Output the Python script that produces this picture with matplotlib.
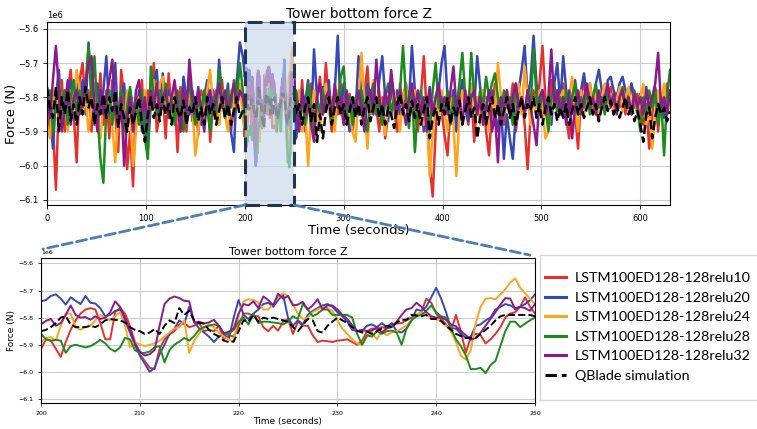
#!/usr/bin/env python3
"""
Tower bottom force Z: LSTM surrogates vs QBlade, full run plus 200-250 s zoom
"""

import numpy as np
import matplotlib.pyplot as plt
from matplotlib.patches import Rectangle, ConnectionPatch
from matplotlib.lines import Line2D

# sample times (s)
t_pre = np.arange(0, 199, 3)
t_zoom = np.arange(200, 250.25, 0.5)
t_post = np.arange(252, 631, 3)

labels = ['LSTM100ED128-128relu10', 'LSTM100ED128-128relu20', 'LSTM100ED128-128relu24',
          'LSTM100ED128-128relu28', 'LSTM100ED128-128relu32', 'QBlade simulation']
colors = ['#e8302b', '#3548b5', '#ffa41b', '#1b8c1b', '#8b1a8b', 'black']

# full-run values, force = -value * 1e4 N
relu10_pre = [585, 590, 588, 607, 580, 575, 590, 578, 572, 585,
              599, 575, 570, 583, 578, 590, 576, 585, 573, 588,
              578, 592, 575, 585, 596, 572, 580, 601, 590, 606,
              580, 585, 575, 592, 578, 583, 570, 590, 585, 578,
              592, 573, 585, 580, 596, 577, 583, 590, 575, 587,
              580, 591, 578, 585, 576, 593, 582, 578, 588, 575,
              586, 579, 590, 583, 575, 578, 582]
relu10_post = [580, 588, 575, 590, 582, 576, 587, 580, 574, 585,
               570, 582, 590, 578, 585, 576, 583, 588, 579, 590,
               582, 576, 585, 579, 571, 585, 578, 583, 590, 580,
               592, 585, 578, 583, 590, 576, 584, 580, 587, 578,
               585, 590, 580, 568, 585, 600, 609, 590, 578, 584,
               591, 597, 583, 578, 586, 580, 575, 583, 588, 579,
               593, 580, 585, 578, 590, 597, 583, 576, 585, 580,
               588, 578, 584, 576, 590, 583, 580, 588, 601, 585,
               578, 585, 576, 565, 580, 588, 575, 582, 578, 585,
               576, 586, 592, 580, 585, 595, 580, 575, 583, 578,
               585, 580, 587, 578, 583, 580, 577, 584, 579, 583,
               578, 585, 580, 576, 583, 579, 585, 588, 582, 595,
               585, 578, 590, 580, 584, 576, 582]
relu20_pre = [578, 585, 595, 580, 572, 588, 578, 583, 575, 586,
              576, 582, 575, 585, 564, 580, 588, 576, 584, 578,
              568, 585, 578, 570, 588, 580, 576, 590, 578, 583,
              586, 578, 590, 580, 595, 582, 576, 572, 585, 573,
              582, 578, 586, 576, 584, 590, 574, 580, 585, 578,
              584, 577, 588, 580, 575, 583, 578, 586, 569, 580,
              584, 576, 590, 596, 575, 564, 568]
relu20_post = [592, 585, 578, 582, 575, 588, 566, 580, 585, 577,
               583, 575, 588, 578, 562, 585, 576, 583, 590, 580,
               585, 568, 580, 588, 576, 583, 578, 585, 575, 568,
               580, 587, 576, 583, 578, 585, 580, 576, 582, 565,
               578, 585, 580, 590, 583, 577, 585, 580, 578, 570,
               565, 580, 585, 578, 590, 582, 575, 583, 587, 579,
               583, 568, 577, 585, 580, 588, 578, 584, 590, 582,
               598, 585, 592, 598, 585, 578, 572, 565, 580, 575,
               562, 576, 583, 578, 585, 580, 588, 576, 570, 582,
               568, 578, 585, 580, 575, 582, 578, 573, 580, 576,
               582, 576, 572, 578, 583, 575, 574, 578, 580, 576,
               574, 578, 582, 576, 580, 585, 579, 583, 577, 584,
               580, 577, 584, 580, 586, 578, 582]
relu24_pre = [588, 592, 578, 583, 575, 586, 580, 590, 578, 584,
              572, 578, 585, 580, 590, 583, 576, 585, 592, 580,
              585, 578, 588, 599, 585, 580, 590, 578, 584, 600,
              590, 580, 585, 578, 588, 580, 575, 583, 576, 574,
              585, 580, 588, 578, 584, 590, 580, 585, 578, 583,
              597, 590, 580, 585, 578, 572, 583, 580, 588, 578,
              585, 590, 578, 583, 580, 576, 586]
relu24_post = [585, 578, 590, 583, 600, 585, 578, 583, 590, 580,
               576, 585, 580, 590, 578, 583, 588, 580, 585, 590,
               593, 580, 567, 583, 595, 580, 575, 583, 578, 585,
               591, 580, 585, 578, 583, 590, 580, 576, 585, 580,
               578, 585, 580, 588, 582, 603, 590, 580, 585, 578,
               584, 590, 580, 588, 603, 585, 578, 583, 580, 576,
               585, 580, 588, 578, 583, 590, 580, 585, 570, 580,
               585, 578, 583, 588, 580, 576, 585, 571, 580, 588,
               580, 585, 578, 583, 592, 590, 583, 578, 585, 580,
               578, 585, 580, 574, 583, 590, 578, 585, 580, 576,
               583, 578, 585, 580, 576, 583, 579, 585, 581, 577,
               584, 580, 577, 583, 579, 585, 580, 576, 588, 583,
               595, 585, 578, 583, 576, 585, 580]
relu28_pre = [583, 578, 590, 580, 575, 585, 578, 588, 580, 575,
              585, 578, 583, 576, 565, 580, 568, 585, 598, 605,
              583, 578, 588, 580, 585, 578, 590, 583, 577, 585,
              580, 588, 578, 592, 598, 571, 580, 585, 578, 583,
              576, 585, 580, 588, 578, 584, 590, 580, 576, 583,
              588, 580, 585, 578, 583, 590, 580, 585, 572, 580,
              586, 578, 583, 575, 580, 570, 578]
relu28_post = [578, 585, 580, 588, 576, 583, 590, 580, 585, 578,
               584, 580, 588, 578, 583, 574, 571, 585, 580, 588,
               580, 585, 578, 583, 590, 580, 576, 585, 580, 588,
               580, 576, 585, 580, 583, 578, 565, 580, 589, 578,
               596, 583, 578, 585, 580, 590, 578, 570, 583, 580,
               585, 578, 588, 580, 583, 576, 567, 580, 585, 567,
               580, 585, 578, 583, 574, 580, 576, 573, 580, 585,
               578, 583, 580, 588, 576, 583, 580, 585, 578, 583,
               566, 580, 585, 578, 583, 590, 580, 576, 584, 580,
               585, 578, 583, 580, 576, 585, 580, 583, 578, 585,
               580, 576, 583, 580, 585, 578, 582, 579, 584, 580,
               577, 583, 580, 585, 578, 583, 590, 580, 585, 578,
               583, 578, 588, 580, 597, 580, 572]
relu32_pre = [580, 586, 575, 565, 578, 590, 583, 575, 588, 580,
              578, 585, 580, 576, 570, 568, 583, 590, 578, 585,
              580, 575, 569, 583, 588, 580, 600, 586, 580, 590,
              578, 575, 585, 580, 588, 578, 583, 576, 585, 580,
              578, 586, 580, 575, 583, 590, 578, 585, 569, 580,
              585, 578, 583, 590, 580, 578, 585, 580, 576, 583,
              578, 585, 580, 576, 583, 578, 580]
relu32_post = [583, 590, 578, 585, 580, 588, 593, 580, 576, 585,
               580, 578, 585, 576, 583, 580, 588, 578, 584, 580,
               585, 578, 583, 590, 580, 578, 585, 569, 580, 585,
               578, 583, 572, 580, 585, 578, 583, 588, 580, 576,
               583, 578, 585, 580, 590, 578, 585, 580, 576, 583,
               580, 585, 578, 571, 583, 580, 588, 578, 585, 580,
               578, 585, 580, 588, 583, 578, 590, 585, 599, 580,
               583, 578, 585, 580, 576, 583, 580, 585, 578, 583,
               588, 594, 580, 578, 585, 580, 566, 583, 578, 585,
               580, 588, 578, 592, 583, 578, 585, 580, 576, 583,
               580, 585, 578, 583, 580, 576, 583, 579, 585, 580,
               578, 583, 580, 585, 579, 583, 580, 585, 578, 583,
               580, 576, 567, 583, 580, 585, 578]
qblade_pre = [577, 583, 586, 577, 590, 580, 585, 578, 587, 582,
              588, 580, 585, 577, 583, 580, 588, 582, 585, 579,
              586, 580, 584, 578, 589, 582, 586, 590, 583, 588,
              584, 580, 588, 593, 585, 580, 586, 582, 587, 580,
              585, 582, 588, 580, 584, 586, 581, 588, 583, 585,
              580, 587, 583, 588, 580, 585, 582, 588, 584, 580,
              586, 582, 588, 584, 580, 586, 584]
qblade_post = [585, 582, 588, 583, 580, 587, 582, 593, 585, 592,
               584, 580, 588, 583, 580, 585, 582, 588, 584, 580,
               586, 582, 588, 583, 580, 587, 583, 580, 586, 582,
               588, 583, 585, 589, 582, 579, 585, 582, 587, 581,
               586, 582, 588, 584, 580, 592, 586, 583, 588, 582,
               585, 580, 588, 583, 586, 581, 588, 584, 580, 586,
               583, 592, 586, 582, 588, 583, 580, 586, 582, 588,
               584, 580, 586, 582, 588, 584, 580, 586, 582, 584,
               580, 586, 582, 588, 583, 580, 585, 582, 587, 583,
               586, 582, 588, 584, 580, 585, 582, 586, 583, 580,
               585, 582, 587, 583, 580, 584, 581, 585, 582, 586,
               583, 580, 585, 582, 587, 584, 588, 593, 585, 583,
               592, 586, 582, 585, 583, 587, 584]

# 200-250 s window, force = -value * 1e3 N
relu10_zoom = [5915, 5880, 5885, 5915, 5945, 5890, 5845, 5810, 5785, 5770,
               5765, 5770, 5820, 5880, 5880, 5780, 5765, 5785, 5830, 5890,
               5935, 5960, 5985, 5990, 5915, 5880, 5862, 5850, 5825, 5820,
               5835, 5830, 5820, 5850, 5845, 5850, 5830, 5880, 5865, 5870,
               5830, 5785, 5785, 5795, 5795, 5835, 5850, 5830, 5848, 5815,
               5805, 5860, 5815, 5830, 5830, 5865, 5890, 5885, 5887, 5890,
               5885, 5883, 5880, 5890, 5900, 5885, 5850, 5840, 5842, 5835,
               5840, 5825, 5822, 5820, 5810, 5800, 5790, 5780, 5730, 5745,
               5785, 5805, 5825, 5850, 5790, 5850, 5930, 5870, 5860, 5865,
               5895, 5880, 5860, 5835, 5800, 5785, 5780, 5760, 5725, 5760,
               5785]
relu20_zoom = [5740, 5735, 5720, 5714, 5730, 5752, 5725, 5738, 5750, 5720,
               5745, 5748, 5765, 5795, 5790, 5775, 5770, 5810, 5855, 5900,
               5940, 5970, 6000, 5985, 5935, 5900, 5860, 5840, 5810, 5825,
               5760, 5815, 5840, 5855, 5870, 5890, 5870, 5860, 5880, 5800,
               5735, 5790, 5805, 5785, 5770, 5750, 5745, 5760, 5735, 5715,
               5800, 5830, 5810, 5825, 5790, 5775, 5765, 5755, 5750, 5760,
               5780, 5795, 5815, 5845, 5850, 5850, 5830, 5825, 5835, 5820,
               5835, 5820, 5850, 5855, 5840, 5810, 5770, 5775, 5760, 5725,
               5690, 5730, 5780, 5840, 5840, 5860, 5875, 5870, 5830, 5825,
               5810, 5800, 5770, 5760, 5750, 5755, 5765, 5760, 5750, 5735,
               5715]
relu24_zoom = [5890, 5875, 5872, 5885, 5830, 5785, 5785, 5835, 5845, 5835,
               5830, 5810, 5790, 5800, 5810, 5795, 5780, 5830, 5910, 5890,
               5900, 5905, 5900, 5895, 5885, 5870, 5855, 5840, 5835, 5810,
               5930, 5885, 5860, 5835, 5825, 5835, 5855, 5870, 5880, 5890,
               5785, 5740, 5732, 5735, 5745, 5770, 5770, 5750, 5725, 5710,
               5720, 5750, 5785, 5805, 5800, 5780, 5770, 5760, 5765, 5775,
               5810, 5840, 5860, 5880, 5895, 5900, 5870, 5855, 5880, 5850,
               5865, 5855, 5850, 5840, 5830, 5810, 5790, 5780, 5790, 5800,
               5805, 5815, 5830, 5850, 5890, 5940, 5955, 5920, 5820, 5760,
               5730, 5728, 5732, 5715, 5695, 5670, 5655, 5690, 5710, 5730,
               5750]
relu28_zoom = [5860, 5880, 5885, 5882, 5885, 5930, 5905, 5900, 5905, 5910,
               5905, 5895, 5882, 5895, 5915, 5925, 5910, 5875, 5880, 5920,
               5930, 5930, 5925, 5910, 5905, 5965, 5920, 5900, 5888, 5875,
               5885, 5868, 5845, 5835, 5830, 5825, 5830, 5860, 5860, 5845,
               5815, 5800, 5825, 5785, 5820, 5815, 5815, 5818, 5820, 5825,
               5815, 5795, 5805, 5750, 5770, 5795, 5785, 5770, 5770, 5790,
               5790, 5790, 5790, 5800, 5860, 5900, 5865, 5870, 5850, 5860,
               5850, 5848, 5855, 5900, 5840, 5810, 5795, 5790, 5775, 5755,
               5780, 5795, 5800, 5840, 5880, 5905, 5940, 5990, 5990, 5985,
               6005, 5975, 5960, 5905, 5850, 5815, 5815, 5835, 5822, 5810,
               5800]
relu32_zoom = [5825, 5812, 5805, 5830, 5820, 5790, 5755, 5790, 5800, 5798,
               5808, 5795, 5805, 5800, 5780, 5740, 5760, 5800, 5845, 5895,
               5925, 5940, 5935, 5920, 5830, 5750, 5730, 5722, 5728, 5738,
               5740, 5818, 5815, 5822, 5818, 5808, 5830, 5858, 5852, 5840,
               5785, 5750, 5755, 5740, 5765, 5722, 5735, 5755, 5712, 5730,
               5720, 5755, 5752, 5742, 5770, 5755, 5732, 5770, 5755, 5755,
               5770, 5790, 5805, 5828, 5850, 5845, 5850, 5848, 5835, 5855,
               5840, 5835, 5815, 5790, 5770, 5765, 5745, 5760, 5780, 5795,
               5800, 5800, 5808, 5825, 5832, 5850, 5865, 5882, 5875, 5855,
               5830, 5805, 5780, 5752, 5728, 5730, 5770, 5760, 5765, 5775,
               5750]
qblade_zoom = [5850, 5845, 5835, 5820, 5800, 5795, 5825, 5835, 5835, 5835,
               5830, 5835, 5825, 5810, 5805, 5808, 5810, 5818, 5835, 5845,
               5850, 5860, 5855, 5842, 5860, 5830, 5810, 5820, 5765, 5790,
               5775, 5810, 5820, 5822, 5845, 5860, 5870, 5885, 5890, 5888,
               5850, 5810, 5815, 5790, 5815, 5800, 5805, 5800, 5805, 5810,
               5815, 5835, 5850, 5828, 5805, 5810, 5850, 5855, 5830, 5815,
               5800, 5810, 5820, 5835, 5848, 5855, 5852, 5860, 5850, 5840,
               5830, 5835, 5818, 5808, 5808, 5790, 5792, 5795, 5790, 5805,
               5805, 5812, 5830, 5845, 5860, 5868, 5875, 5875, 5875, 5860,
               5845, 5830, 5810, 5795, 5790, 5790, 5790, 5790, 5790, 5790,
               5795]

pre = [relu10_pre, relu20_pre, relu24_pre, relu28_pre, relu32_pre, qblade_pre]
zoom = [relu10_zoom, relu20_zoom, relu24_zoom, relu28_zoom, relu32_zoom, qblade_zoom]
post = [relu10_post, relu20_post, relu24_post, relu28_post, relu32_post, qblade_post]

t_full = np.concatenate([t_pre, t_zoom, t_post])

fig = plt.figure(figsize=(7.57, 4.29), dpi=100)
ax1 = fig.add_axes([0.0621, 0.522, 0.823, 0.4267])
ax2 = fig.add_axes([0.0542, 0.0606, 0.6525, 0.338])

ylim = (-6.115e6, -5.58e6)
yt = np.array([-6.1, -6.0, -5.9, -5.8, -5.7, -5.6]) * 1e6

for i in range(6):
    full = -np.concatenate([np.array(pre[i]) * 1e4, np.array(zoom[i]) * 1e3, np.array(post[i]) * 1e4])
    win = -np.array(zoom[i]) * 1e3
    ls = '--' if i == 5 else '-'
    ax1.plot(t_full, full, color=colors[i], linestyle=ls, linewidth=1.8)
    ax2.plot(t_zoom, win, color=colors[i], linestyle=ls, linewidth=1.4)

# top panel
ax1.set_xlim(0, 630)
ax1.set_ylim(*ylim)
ax1.set_yticks(yt)
ax1.set_xticks(np.arange(0, 601, 100))
ax1.grid(True, color='#cccccc', linewidth=0.8)
ax1.tick_params(labelsize=6, length=3, width=0.6)
ax1.yaxis.get_offset_text().set_fontsize(6)
ax1.set_title('Tower bottom force Z', fontsize=9.8, pad=3)
ax1.set_xlabel('Time (seconds)', fontsize=9.5, labelpad=1)
ax1.set_ylabel('Force (N)', fontsize=9.5)
ax1.yaxis.set_label_coords(-0.046, 0.5)

# highlighted window
ax1.add_patch(Rectangle((200, 0), 50, 1, transform=ax1.get_xaxis_transform(),
                        facecolor='#c8d7ea', alpha=0.65, edgecolor='none', zorder=5))
ax1.add_patch(Rectangle((200, 0), 50, 1, transform=ax1.get_xaxis_transform(),
                        fill=False, edgecolor='#1f3552', linewidth=2.2,
                        linestyle=(0, (4.8, 2.4)), zorder=6, clip_on=False))

# bottom panel
ax2.set_xlim(200, 250)
ax2.set_ylim(*ylim)
ax2.set_yticks(yt)
ax2.set_xticks(np.arange(200, 251, 10))
ax2.grid(True, color='#cccccc', linewidth=0.8)
ax2.tick_params(labelsize=4.5, length=2, width=0.5)
ax2.yaxis.get_offset_text().set_fontsize(4.5)
ax2.set_title('Tower bottom force Z', fontsize=8, pad=2)
ax2.set_xlabel('Time (seconds)', fontsize=6.5, labelpad=1)
ax2.set_ylabel('Force (N)', fontsize=6.5)
ax2.yaxis.set_label_coords(-0.05, 0.5)

# zoom connectors
for xa, xb in [((200, ylim[0]), (0.004, 1.062)), ((250, ylim[0]), (0.99, 1.02))]:
    con = ConnectionPatch(xyA=xa, coordsA=ax1.transData, xyB=xb, coordsB=ax2.transAxes,
                          color='#4a7ebb', linestyle='--', linewidth=2)
    fig.add_artist(con)

# legend box drawn separately (wide top/bottom padding, narrow sides)
fig.add_artist(Rectangle((540 / 757, 1 - 400 / 429), 0.35, 145 / 429, transform=fig.transFigure,
                         facecolor='white', edgecolor='#d4d4d4', linewidth=1))
handles = [Line2D([], [], color=colors[i], linestyle='--' if i == 5 else '-', linewidth=2.2)
           for i in range(6)]
fig.legend(handles, labels, loc='upper left', bbox_to_anchor=(545 / 757, 1 - 272 / 429),
           bbox_transform=fig.transFigure, frameon=False, borderpad=0, borderaxespad=0,
           handlelength=1.5, handletextpad=0.6, labelspacing=0.53,
           prop={'family': 'Lato', 'size': 10.3})

plt.savefig('out.png', dpi=100)
print('Saved out.png')
